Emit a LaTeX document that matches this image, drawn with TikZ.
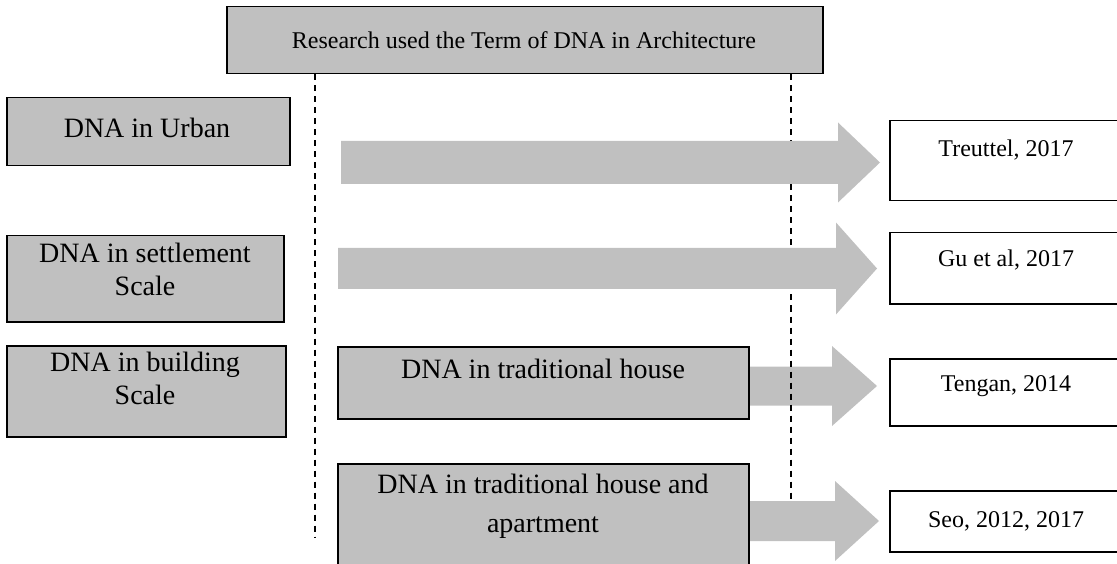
\documentclass[tikz,border=0pt]{standalone}
\usepackage{fontspec}
\setmainfont{Liberation Serif}
\definecolor{boxgray}{HTML}{C0C0C0}
\newcommand{\myblockarrow}[6]{% x1, x2 (tip), yc, shaft half, head half, head length
  \fill[boxgray] (#1,#3-#4) -- ({#2-#6},#3-#4) -- ({#2-#6},#3-#5) -- (#2,#3)
    -- ({#2-#6},#3+#5) -- ({#2-#6},#3+#4) -- (#1,#3+#4) -- cycle;}
\begin{document}
\begin{tikzpicture}[x=1pt,y=-1pt,
  graybox/.style={draw=black,line width=1.5pt,fill=boxgray,rectangle,inner sep=0pt,anchor=north west},
  whitebox/.style={draw=black,line width=1.5pt,fill=white,rectangle,inner sep=0pt,anchor=north west},
  lbl/.style={font=\fontsize{28}{33}\selectfont,align=center,inner sep=0pt},
  lblsmall/.style={font=\fontsize{24}{28}\selectfont,align=center,inner sep=0pt},
  guide/.style={line width=1.3pt,dash pattern=on 6pt off 5pt}]
\useasboundingbox (0,0) rectangle (1117,564);
\clip (0,0) rectangle (1117,564);
% title
\node[graybox,minimum width=596pt,minimum height=67pt] (title) at (226,6) {};
\node[lblsmall] (titletext) at (524,40) {Research used the Term of DNA in Architecture};
% left boxes
\node[graybox,minimum width=283pt,minimum height=68pt] (urban) at (6,97) {};
\node[lbl] at (147,128) {DNA in Urban};
\node[graybox,minimum width=277pt,minimum height=86pt] (settle) at (6,235) {};
\node[lbl] at (145,269) {DNA in settlement\\Scale};
\node[graybox,minimum width=279pt,minimum height=91pt] (build) at (6,345) {};
\node[lbl] at (145,378) {DNA in building\\Scale};
% middle boxes
\node[graybox,minimum width=411pt,minimum height=72pt] (trad) at (337,346) {};
\node[lbl] at (543,369) {DNA in traditional house};
\node[graybox,minimum width=411pt,minimum height=120pt] (tradapt) at (337,463) {};
\node[lbl,font=\fontsize{28}{39}\selectfont] at (543,506) {DNA in traditional house and\\apartment};
% right boxes
\node[whitebox,minimum width=240pt,minimum height=80pt] (treuttel) at (889,120) {};
\node[lblsmall] at (1006,150) {Treuttel, 2017};
\node[whitebox,minimum width=240pt,minimum height=71pt] (gu) at (889,232) {};
\node[lblsmall] at (1006,260) {Gu et al, 2017};
\node[whitebox,minimum width=240pt,minimum height=67pt] (tengan) at (889,358) {};
\node[lblsmall] at (1006,386) {Tengan, 2014};
\node[whitebox,minimum width=240pt,minimum height=61pt] (seo) at (889,490) {};
\node[lblsmall] at (1006,521) {Seo, 2012, 2017};
% block arrow under the guides
\myblockarrow{750}{877}{386}{19.5}{40}{45}
% dashed guides
\coordinate (g1b) at (315,537);
\coordinate (g2b) at (791,532);
\draw[guide] (title.south west -| g1b) -- (g1b);
\draw[guide] (title.south west -| g2b) -- (g2b);
% block arrows over the guides
\myblockarrow{341}{880}{162.5}{21.5}{40}{42}
\myblockarrow{338}{877}{268.5}{20.5}{46}{41}
\myblockarrow{750}{879}{521}{20}{40}{44}
\end{tikzpicture}
\end{document}
